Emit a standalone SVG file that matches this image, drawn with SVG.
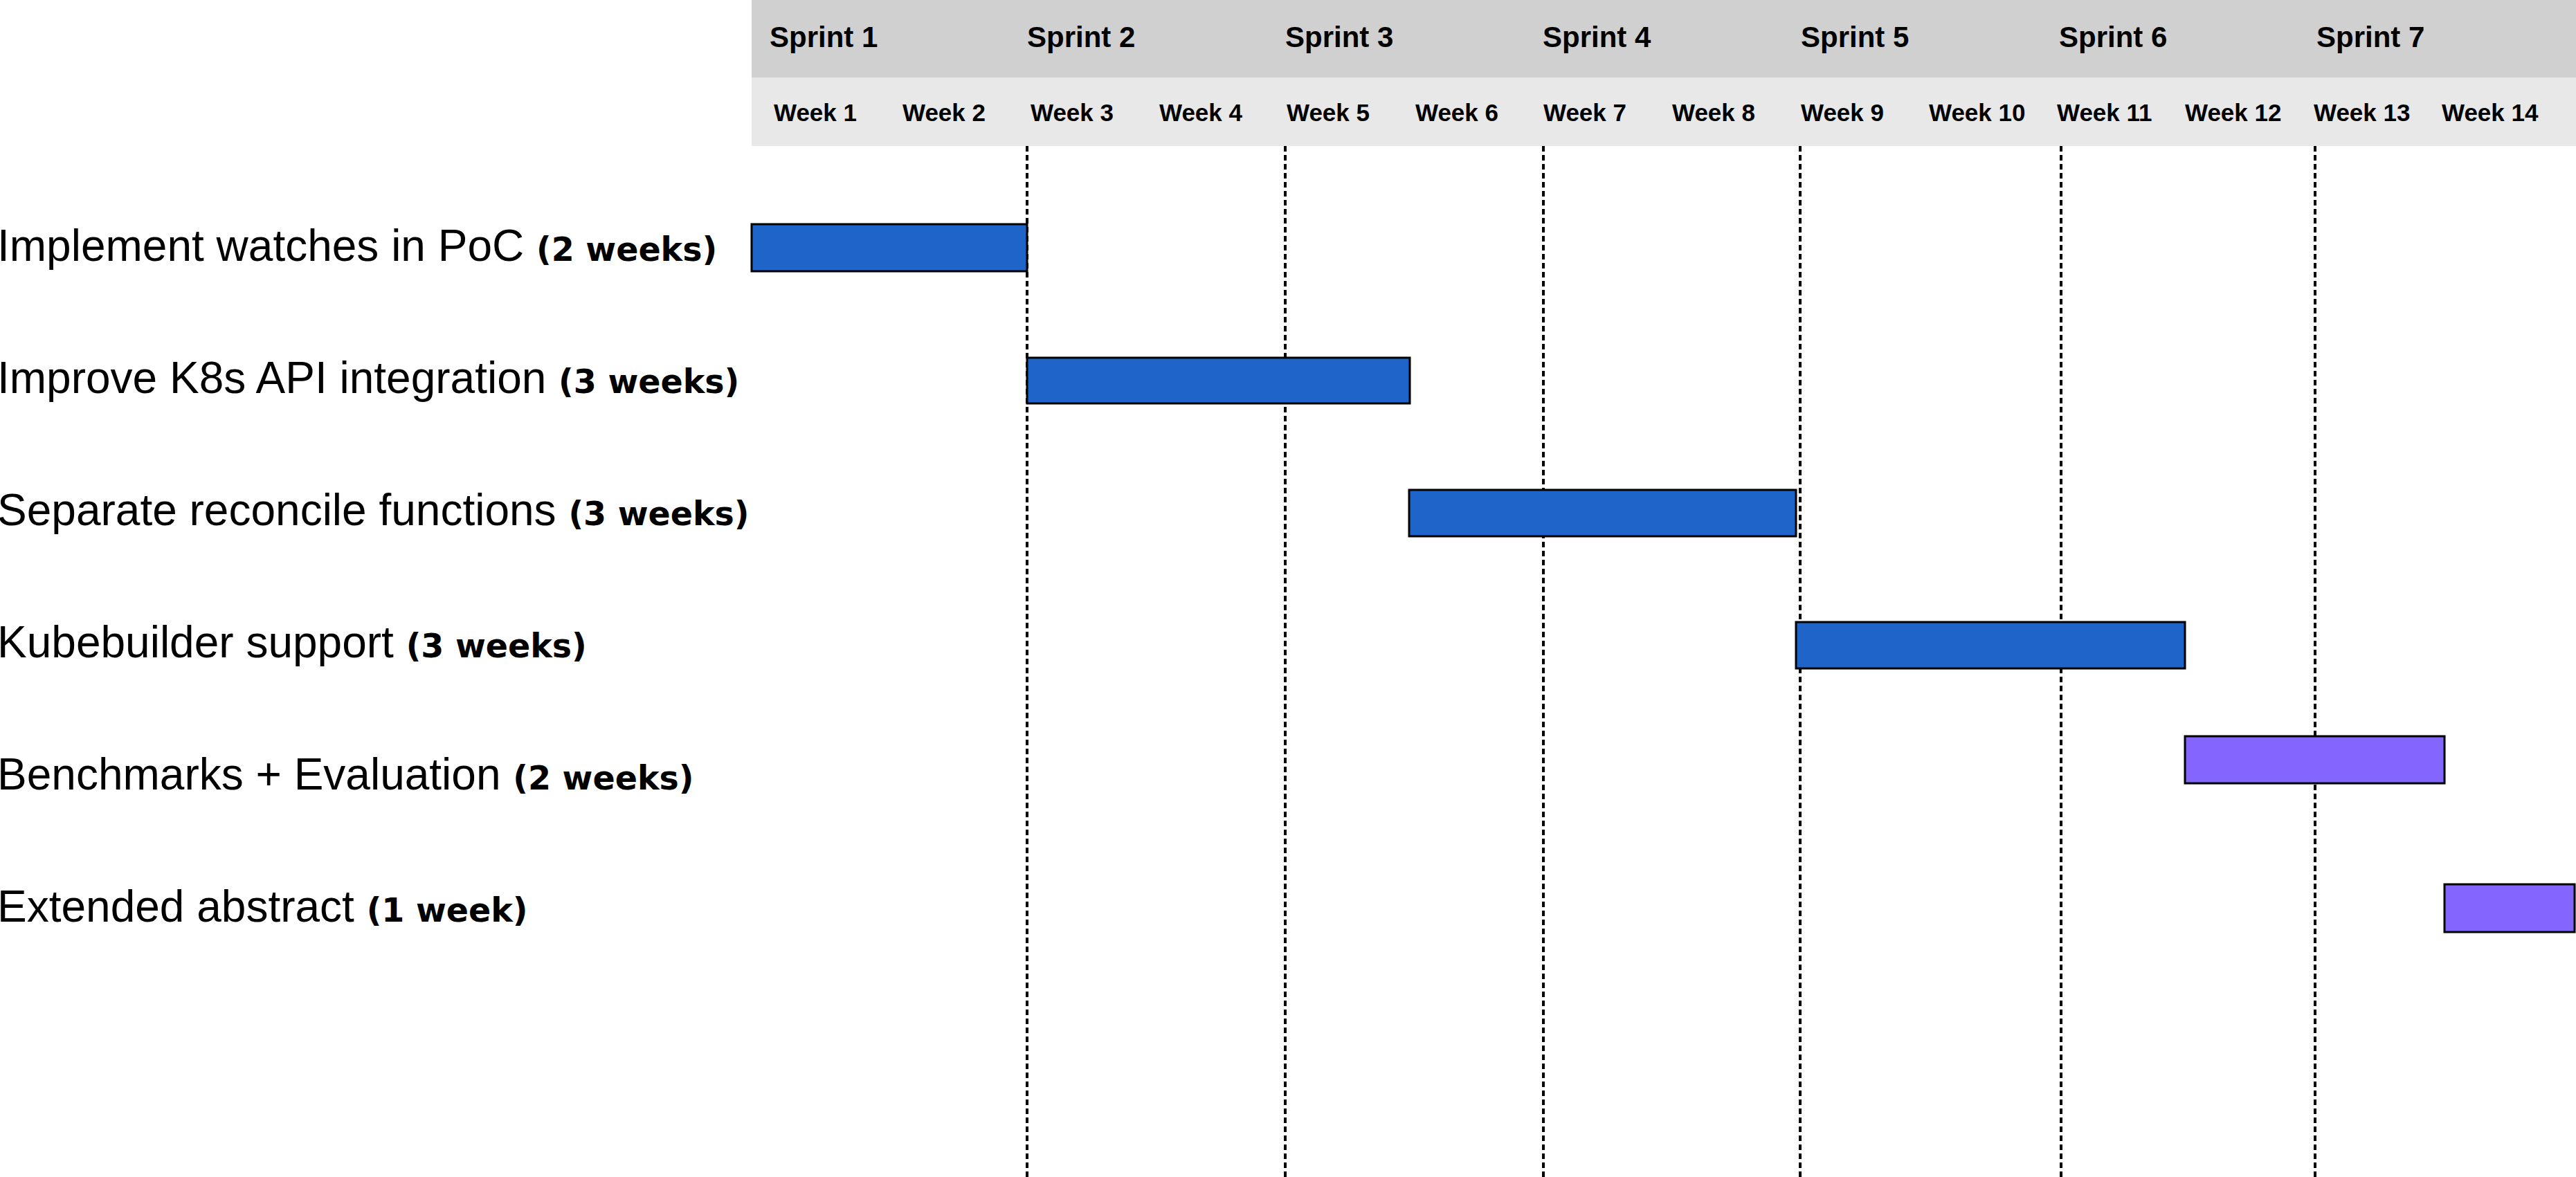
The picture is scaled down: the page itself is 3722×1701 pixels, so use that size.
<svg xmlns="http://www.w3.org/2000/svg" width="3722" height="1701" viewBox="0 0 3722 1701">
<style>
.hdr{font-family:"Liberation Sans",Arial,sans-serif;font-weight:bold;fill:#000}
.sp{font-size:42px}
.wk{font-size:35px}
.lbl{font-family:"Liberation Sans",Arial,sans-serif;font-size:64px;fill:#000}
.dur{font-family:"DejaVu Sans",Verdana,sans-serif;font-weight:bold;font-size:47.5px}
.grid{stroke:#000;stroke-width:4;stroke-dasharray:8 5;fill:none}
.bar{stroke:#000;stroke-width:3}
.blue{fill:#1f64c8}
.purple{fill:#8466ff}
</style>
<rect x="0" y="0" width="3722" height="1701" fill="#fff"/>
<g id="header">
<rect x="1086" y="0" width="2636" height="112" fill="#d0d0d0"/>
<rect x="1086" y="112" width="2636" height="99" fill="#e8e8e8"/>
<g class="hdr sp">
<text x="1112" y="68">Sprint 1</text>
<text x="1484" y="68">Sprint 2</text>
<text x="1857" y="68">Sprint 3</text>
<text x="2229" y="68">Sprint 4</text>
<text x="2602" y="68">Sprint 5</text>
<text x="2975" y="68">Sprint 6</text>
<text x="3347" y="68">Sprint 7</text>
</g>
<g class="hdr wk">
<text x="1118" y="175">Week 1</text>
<text x="1304" y="175">Week 2</text>
<text x="1489" y="175">Week 3</text>
<text x="1675" y="175">Week 4</text>
<text x="1859" y="175">Week 5</text>
<text x="2045" y="175">Week 6</text>
<text x="2230" y="175">Week 7</text>
<text x="2416" y="175">Week 8</text>
<text x="2602" y="175">Week 9</text>
<text x="2787" y="175">Week 10</text>
<text x="2972" y="175">Week 11</text>
<text x="3157" y="175">Week 12</text>
<text x="3343" y="175">Week 13</text>
<text x="3528" y="175">Week 14</text>
</g>
</g>
<g id="connectors">
<line class="grid" x1="1484" y1="211" x2="1484" y2="1701"/>
<line class="grid" x1="1857" y1="211" x2="1857" y2="1701"/>
<line class="grid" x1="2230" y1="211" x2="2230" y2="1701"/>
<line class="grid" x1="2601" y1="211" x2="2601" y2="1701"/>
<line class="grid" x1="2978" y1="211" x2="2978" y2="1701"/>
<line class="grid" x1="3345" y1="211" x2="3345" y2="1701"/>
</g>
<g id="task1">
<text class="lbl" x="-4" y="377">Implement watches in PoC <tspan class="dur">(2 weeks)</tspan></text>
<rect class="bar blue" x="1086" y="324" width="398" height="68"/>
</g>
<g id="task2">
<text class="lbl" x="-4" y="568">Improve K8s API integration <tspan class="dur">(3 weeks)</tspan></text>
<rect class="bar blue" x="1484" y="517" width="553" height="66"/>
</g>
<g id="task3">
<text class="lbl" x="-4" y="759">Separate reconcile functions <tspan class="dur">(3 weeks)</tspan></text>
<rect class="bar blue" x="2036" y="708" width="559" height="67"/>
</g>
<g id="task4">
<text class="lbl" x="-4" y="950">Kubebuilder support <tspan class="dur">(3 weeks)</tspan></text>
<rect class="bar blue" x="2595" y="899" width="562" height="67"/>
</g>
<g id="task5">
<text class="lbl" x="-4" y="1141">Benchmarks + Evaluation <tspan class="dur">(2 weeks)</tspan></text>
<rect class="bar purple" x="3157" y="1064" width="375" height="68"/>
</g>
<g id="task6">
<text class="lbl" x="-4" y="1332">Extended abstract <tspan class="dur">(1 week)</tspan></text>
<rect class="bar purple" x="3532" y="1278" width="188" height="69"/>
</g>
</svg>
